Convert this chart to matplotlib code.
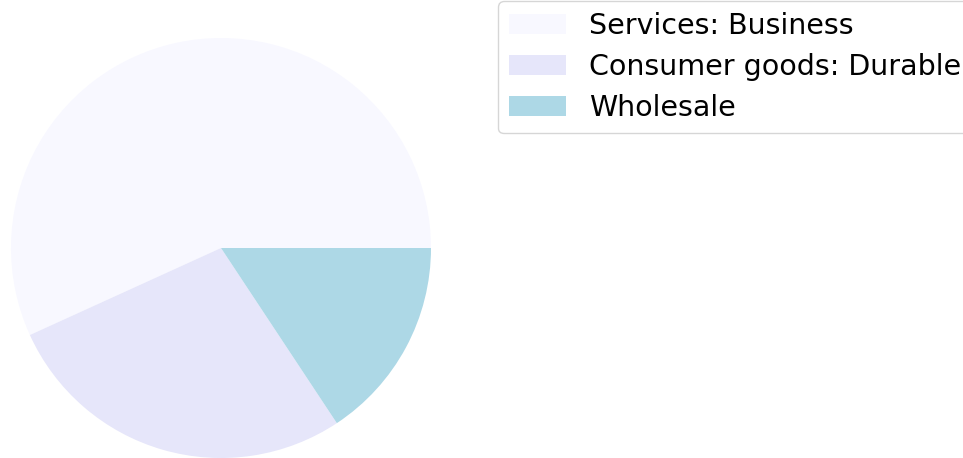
import matplotlib
matplotlib.use("Agg")
import matplotlib.pyplot as plt

labels = ["Services: Business", "Consumer goods: Durable", "Wholesale"]
values = [56.8, 27.5, 15.7]
colors = ["#F8F8FF", "#E6E6FA", "#ADD8E6"]

W, H = 963, 458
fig = plt.figure(figsize=(W / 100, H / 100), dpi=100)
ax = fig.add_axes([11 / W, 0 / H, 420 / W, 420 / H])
wedges, _ = ax.pie(values, colors=colors, startangle=0, counterclock=True)
ax.set_xlim(-1, 1)
ax.set_ylim(-1, 1)
ax.set_aspect("equal")
ax.axis("off")

fig.legend(wedges, labels, loc="upper left", bbox_to_anchor=(498 / W, 1 - 1 / H),
           borderaxespad=0, fontsize=20.5, frameon=True, labelspacing=0.45)

fig.savefig("out.png", dpi=100)
